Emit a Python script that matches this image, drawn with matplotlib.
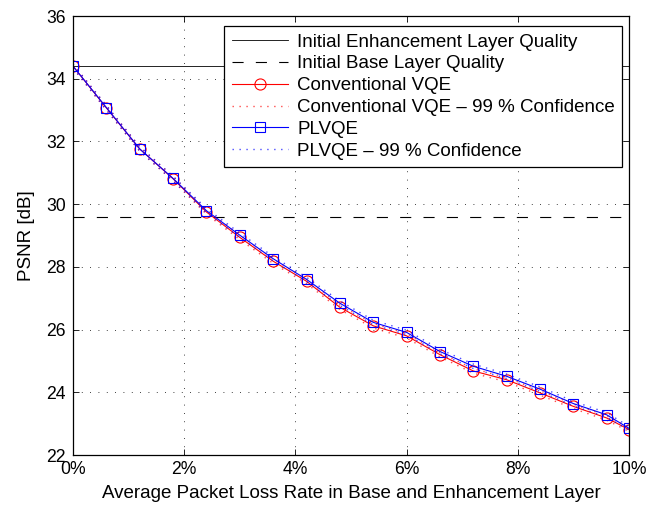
import matplotlib
matplotlib.use("Agg")
import matplotlib.pyplot as plt
from matplotlib.ticker import FuncFormatter

plt.rcParams['font.family'] = ['Liberation Sans', 'DejaVu Sans']

loss = [0.0, 0.6, 1.2, 1.8, 2.4, 3.0, 3.6, 4.2, 4.8, 5.4, 6.0, 6.6, 7.2, 7.8, 8.4, 9.0, 9.6, 10.0]
vqe = [34.40, 33.07, 31.76, 30.81, 29.75, 28.94, 28.18, 27.54, 26.71, 26.12, 25.80, 25.20, 24.68, 24.40, 23.98, 23.55, 23.18, 22.81]
vqe_lo = [34.34, 33.00, 31.69, 30.74, 29.68, 28.87, 28.11, 27.47, 26.64, 26.05, 25.73, 25.13, 24.61, 24.33, 23.91, 23.48, 23.11, 22.75]
vqe_hi = [34.46, 33.14, 31.83, 30.88, 29.82, 29.01, 28.25, 27.61, 26.78, 26.19, 25.87, 25.27, 24.75, 24.47, 24.05, 23.62, 23.25, 22.87]
plv = [34.40, 33.08, 31.76, 30.82, 29.79, 29.01, 28.26, 27.60, 26.84, 26.23, 25.91, 25.30, 24.83, 24.51, 24.10, 23.64, 23.28, 22.85]
plv_lo = [34.34, 33.01, 31.69, 30.75, 29.72, 28.94, 28.19, 27.53, 26.77, 26.16, 25.84, 25.23, 24.76, 24.44, 24.03, 23.57, 23.21, 22.79]
plv_hi = [34.46, 33.15, 31.83, 30.89, 29.86, 29.08, 28.33, 27.67, 26.91, 26.30, 25.98, 25.37, 24.90, 24.58, 24.17, 23.71, 23.35, 22.91]
enh_quality = 34.4
base_quality = 29.6

xticks = [0, 2, 4, 6, 8, 10]
yticks = [22, 24, 26, 28, 30, 32, 34, 36]

fig = plt.figure(figsize=(6.59, 5.09), dpi=100)
ax = fig.add_axes([73/659, 54/509, 556/659, 439/509])

dots = (0, (1, 4))
ax.axhline(enh_quality, color='k', lw=0.6, label='Initial Enhancement Layer Quality')
ax.axhline(base_quality, color='k', lw=0.8, linestyle=(0, (10, 11)), label='Initial Base Layer Quality')
ax.plot(loss, vqe, color='red', lw=0.8, marker='o', ms=8, mfc='none', mec='red', mew=0.8,
        label='Conventional VQE')
ax.plot(loss, vqe_lo, color='red', lw=1.0, linestyle=dots, alpha=0.7,
        label='Conventional VQE \u2013 99 % Confidence')
ax.plot(loss, vqe_hi, color='red', lw=1.0, linestyle=dots, alpha=0.7)
ax.plot(loss, plv, color='blue', lw=0.8, marker='s', ms=7, mfc='none', mec='blue', mew=0.8,
        label='PLVQE')
ax.plot(loss, plv_lo, color='blue', lw=1.0, linestyle=dots, alpha=0.7,
        label='PLVQE \u2013 99 % Confidence')
ax.plot(loss, plv_hi, color='blue', lw=1.0, linestyle=dots, alpha=0.7)

ax.set_xlim(0, 10)
ax.set_ylim(22, 36)
ax.set_xticks(xticks)
ax.set_yticks(yticks)
ax.xaxis.set_major_formatter(FuncFormatter(lambda v, p: f'{v:.0f}%'))
ax.tick_params(direction='in', top=True, right=True, labelsize=12.7, length=4, width=0.6)
ax.tick_params(axis='x', pad=4)
ax.tick_params(axis='y', pad=5)
ax.grid(True, color='k', linestyle=(0, (1, 9)), lw=0.6)
for s in ax.spines.values():
    s.set_linewidth(0.9)

ax.set_xlabel('Average Packet Loss Rate in Base and Enhancement Layer', fontsize=13.5, labelpad=5)
ax.set_ylabel('PSNR [dB]', fontsize=13.5, labelpad=8)

leg = ax.legend(loc='upper left', bbox_to_anchor=((224 - 73) / 556, 1 - (26 - 16) / 439), fontsize=13.5,
                frameon=True, fancybox=False, edgecolor='k', framealpha=1,
                handlelength=3.0, borderaxespad=0, labelspacing=0.25, borderpad=0.4,
                handletextpad=0.5)
leg.get_frame().set_linewidth(0.9)

fig.savefig('out.png', dpi=100)
